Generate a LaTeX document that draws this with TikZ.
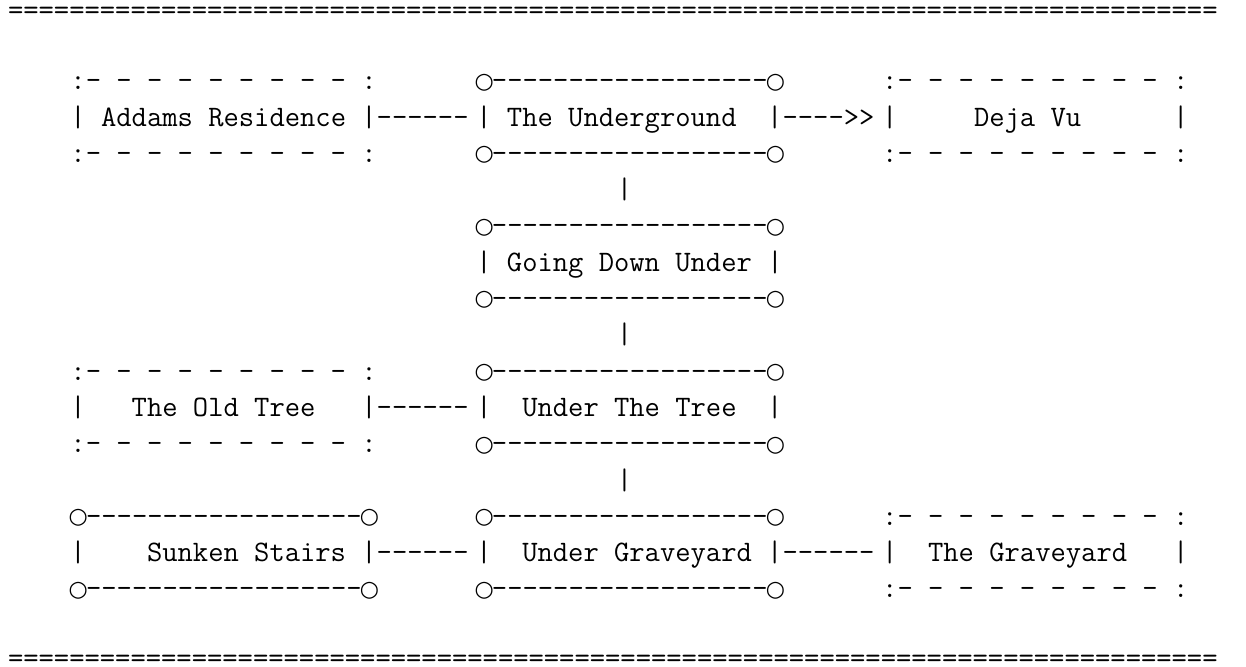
\documentclass[tikz,border=0pt]{standalone}
\usepackage{fontspec}
\usepackage{tikz}
\usetikzlibrary{positioning}
\setmonofont{Latin Modern Mono}
\newfontfamily\ringfont{DejaVu Sans}
\newcommand{\asciisize}{\ttfamily\fontsize{29.73pt}{36.3pt}\selectfont}
\newcommand{\ring}{\makebox[15.61pt][c]{\raisebox{1.6pt}{\fontsize{22pt}{22pt}\ringfont ○}}}
\newcommand{\ringline}{\ring------------------\ring}
\newcommand{\dotline}{:- - - - - - - - - :}
\newcommand{\eqline}{==========%
==========%
==========%
==========%
==========%
==========%
==========%
=========}

\begin{document}
\begin{tikzpicture}[x=15.61pt, y=-36.3pt,
  asc/.style={font=\asciisize, inner sep=0pt, outer sep=0pt, anchor=base west}]
\useasboundingbox (-8.05pt,17.1pt) rectangle (1237.95pt,-648.9pt);
% rules
\node[asc, yshift=-2.5pt] (ruleT) at (0,0) {\eqline};
\node[asc, yshift=3pt] (ruleB) at (0,18) {\eqline};
% top row
\node[asc] (addamsT) at (4,2) {\dotline};
\node[asc] (addams) at (4,3) {|~Addams Residence~|};
\node[asc] (addamsB) at (4,4) {\dotline};
\node[asc] (undergroundT) at (30,2) {\ringline};
\node[asc] (underground) at (30,3) {|~The Underground~~|};
\node[asc] (undergroundB) at (30,4) {\ringline};
\node[asc] (dejavuT) at (56,2) {\dotline};
\node[asc] (dejavu) at (56,3) {|~~~~~Deja Vu~~~~~~|};
\node[asc] (dejavuB) at (56,4) {\dotline};
\node[asc] (aToU) at (addams.base east) {------};
\node[asc] (uToD) at (underground.base east) {---->>};
% middle column
\node[asc] (uToG) at (39,5) {|};
\node[asc] (goingdownT) at (30,6) {\ringline};
\node[asc] (goingdown) at (30,7) {|~Going Down Under~|};
\node[asc] (goingdownB) at (30,8) {\ringline};
\node[asc] (gToT) at (39,9) {|};
% tree row
\node[asc] (oldtreeT) at (4,10) {\dotline};
\node[asc] (oldtree) at (4,11) {|~~~The Old Tree~~~|};
\node[asc] (oldtreeB) at (4,12) {\dotline};
\node[asc] (undertreeT) at (30,10) {\ringline};
\node[asc] (undertree) at (30,11) {|~~Under The Tree~~|};
\node[asc] (undertreeB) at (30,12) {\ringline};
\node[asc] (oToU) at (oldtree.base east) {------};
\node[asc] (tToG) at (39,13) {|};
% bottom row
\node[asc] (sunkenT) at (4,14) {\ringline};
\node[asc] (sunken) at (4,15) {|~~~~Sunken Stairs~|};
\node[asc] (sunkenB) at (4,16) {\ringline};
\node[asc] (undergraveT) at (30,14) {\ringline};
\node[asc] (undergrave) at (30,15) {|~~Under Graveyard~|};
\node[asc] (undergraveB) at (30,16) {\ringline};
\node[asc] (graveyardT) at (56,14) {\dotline};
\node[asc] (graveyard) at (56,15) {|~~The Graveyard~~~|};
\node[asc] (graveyardB) at (56,16) {\dotline};
\node[asc] (sToU) at (sunken.base east) {------};
\node[asc] (uToY) at (undergrave.base east) {------};
\end{tikzpicture}
\end{document}
